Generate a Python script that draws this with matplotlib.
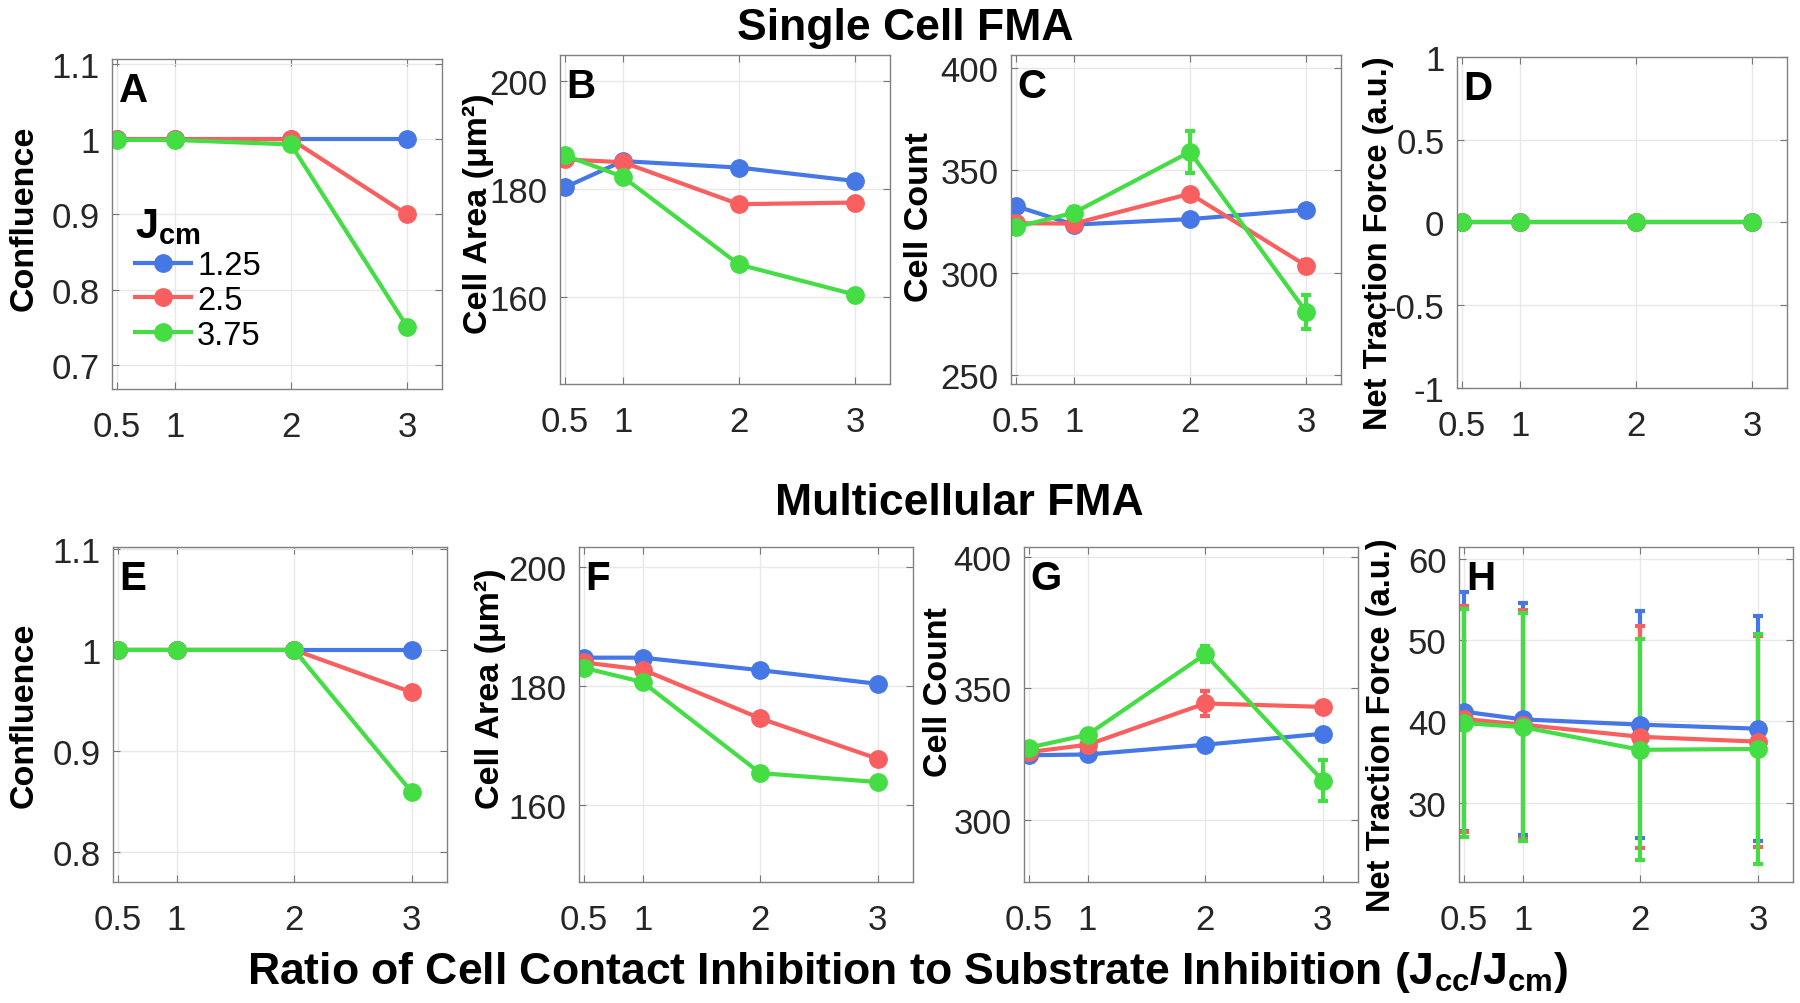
import numpy as np
import matplotlib
matplotlib.use('Agg')
import matplotlib.pyplot as plt
from matplotlib.ticker import FuncFormatter

plt.rcParams['font.family'] = ['Liberation Sans', 'DejaVu Sans']
plt.rcParams['mathtext.fontset'] = 'custom'
plt.rcParams['mathtext.rm'] = 'Liberation Sans'
plt.rcParams['mathtext.bf'] = 'Liberation Sans:bold'
plt.rcParams['mathtext.it'] = 'Liberation Sans:italic'

# x values: Jcc/Jcm ratio
ratio = [0.5, 1, 2, 3]
ratio_labels = ['0.5', '1', '2', '3']
jcm_labels = ['1.25', '2.5', '3.75']
colors = ['#4677E6', '#FA5F5F', '#44DD44']

# single cell FMA (rows: Jcm = 1.25, 2.5, 3.75)
sc_confluence = [[1, 1, 1, 1], [1, 1, 1, 0.900], [0.999, 0.999, 0.993, 0.751]]
sc_confluence_err = [[0, 0, 0, 0], [0, 0, 0, 0.002], [0, 0, 0.006, 0.004]]
sc_area = [[180.3, 185.2, 184.0, 181.5], [185.5, 185.0, 177.2, 177.5], [186.3, 182.3, 166.0, 160.4]]
sc_area_err = [[0, 0, 0, 0], [0, 0, 0, 0], [0, 0, 0, 0]]
sc_count = [[332.6, 323.5, 326.2, 330.8], [324.2, 324.0, 338.6, 303.4], [322.3, 329.3, 359.1, 280.8]]
sc_count_err = [[0, 0, 0, 0], [0, 0, 1.5, 3.0], [0, 3.0, 10.2, 8.3]]
sc_force = [[0, 0, 0, 0], [0, 0, 0, 0], [0, 0, 0, 0]]
sc_force_err = [[0, 0, 0, 0], [0, 0, 0, 0], [0, 0, 0, 0]]

# multicellular FMA
mc_confluence = [[1, 1, 1, 1], [1, 1, 1, 0.958], [1, 1, 1, 0.859]]
mc_confluence_err = [[0, 0, 0, 0], [0, 0, 0, 0], [0, 0, 0, 0]]
mc_area = [[184.8, 184.8, 182.7, 180.4], [184.0, 182.8, 174.6, 167.8], [183.1, 180.7, 165.4, 163.9]]
mc_area_err = [[0, 0, 0, 0], [0, 0, 0, 0], [0, 0, 0, 0]]
mc_count = [[324.6, 324.9, 328.6, 332.8], [325.8, 328.6, 344.3, 343.0], [327.5, 332.4, 363.0, 314.9]]
mc_count_err = [[0, 0, 0, 0], [0, 0, 4.6, 0], [0, 0, 3.0, 7.8]]
mc_force = [[41.2, 40.25, 39.6, 39.1], [40.3, 39.6, 38.1, 37.5], [39.8, 39.3, 36.5, 36.6]]
mc_force_err = [[14.7, 14.3, 14.0, 13.9], [13.9, 14.1, 13.7, 13.0], [14.0, 14.1, 13.6, 14.2]]

conf_label = 'Confluence'
area_label = 'Cell Area (μm²)'
count_label = 'Cell Count'
force_label = 'Net Traction Force (a.u.)'

# (letter, data, err, ylabel, yticks, ylim, rect, ylabel pos)
panels = [
    ('A', sc_confluence, sc_confluence_err, conf_label, [0.7, 0.8, 0.9, 1, 1.1], (0.668, 1.106),
     [0.0622, 0.6116, 0.1833, 0.3282], (-0.22, 0.52)),
    ('B', sc_area, sc_area_err, area_label, [160, 180, 200], (143.8, 204.9),
     [0.3111, 0.6165, 0.1833, 0.3277], (-0.20, 0.52)),
    ('C', sc_count, sc_count_err, count_label, [250, 300, 350, 400], (245.5, 406.5),
     [0.5617, 0.6165, 0.1833, 0.3277], (-0.23, 0.51)),
    ('D', sc_force, sc_force_err, force_label, [-1, -0.5, 0, 0.5, 1], (-1, 1),
     [0.8094, 0.6126, 0.1833, 0.3297], (-0.19, 0.44)),
    ('E', mc_confluence, mc_confluence_err, conf_label, [0.8, 0.9, 1, 1.1], (0.770, 1.102),
     [0.0628, 0.1205, 0.1856, 0.3337], (-0.22, 0.50)),
    ('F', mc_area, mc_area_err, area_label, [160, 180, 200], (147.1, 203.4),
     [0.3217, 0.1205, 0.1856, 0.3337], (-0.22, 0.58)),
    ('G', mc_count, mc_count_err, count_label, [300, 350, 400], (276.4, 403.8),
     [0.5689, 0.1205, 0.1856, 0.3337], (-0.21, 0.57)),
    ('H', mc_force, mc_force_err, force_label, [30, 40, 50, 60], (20.2, 61.5),
     [0.8106, 0.1205, 0.1856, 0.3337], (-0.186, 0.47)),
]

fig = plt.figure(figsize=(18, 10.04), dpi=100)

axes = {}
handles = {}
for letter, data, err, ylab, yt, yl, rect, lpos in panels:
    ax = fig.add_axes(rect)
    axes[letter] = ax
    handles[letter] = []
    for k in range(3):
        eb = ax.errorbar(ratio, data[k], yerr=err[k], color=colors[k], lw=3,
                         marker='o', ms=12.5, capsize=3.5, capthick=3, elinewidth=3,
                         label=jcm_labels[k])
        handles[letter].append(eb.lines[0])
    ax.set_xlim(0.46, 3.3)
    ax.set_ylim(*yl)
    ax.set_xticks(ratio)
    ax.set_xticklabels(ratio_labels)
    ax.set_yticks(yt)
    ax.yaxis.set_major_formatter(FuncFormatter(lambda v, p: f'{v:g}'))
    ax.grid(True, color='#e8e8e8', lw=1)
    ax.set_axisbelow(True)
    ax.tick_params(direction='in', top=True, right=True, length=5, width=0.8,
                   color='#777777', labelcolor='#262626', labelsize=25)
    ax.tick_params(axis='x', pad=15)
    ax.tick_params(axis='y', pad=9)
    for s in ax.spines.values():
        s.set_color('#808080')
        s.set_linewidth(1)
    ax.set_ylabel(ylab, fontsize=24.5 if ylab != force_label else 23.5, fontweight='bold')
    ax.yaxis.set_label_coords(*lpos)
    ax.text(0.02, 0.965, letter, transform=ax.transAxes, fontsize=29,
            fontweight='bold', ha='left', va='top')

leg = axes['A'].legend(handles['A'], jcm_labels, loc='upper left',
                       bbox_to_anchor=(0.07, 0.555), frameon=False,
                       fontsize=23.5, title=r'J$_{\mathbf{cm}}$',
                       title_fontproperties={'weight': 'bold', 'size': 30},
                       alignment='left', borderpad=0, borderaxespad=0,
                       handlelength=1.7, handletextpad=0.2, labelspacing=0.12)

fig.text(0.503, 0.960, 'Single Cell FMA', fontsize=32, fontweight='bold',
         ha='center', va='baseline')
fig.text(0.533, 0.487, 'Multicellular FMA', fontsize=32, fontweight='bold',
         ha='center', va='baseline')
fig.text(0.504, 0.020,
         r'Ratio of Cell Contact Inhibition to Substrate Inhibition (J$_{\mathbf{cc}}$/J$_{\mathbf{cm}}$)',
         fontsize=32, fontweight='bold', ha='center', va='baseline')

fig.savefig('out.png', dpi=100)
